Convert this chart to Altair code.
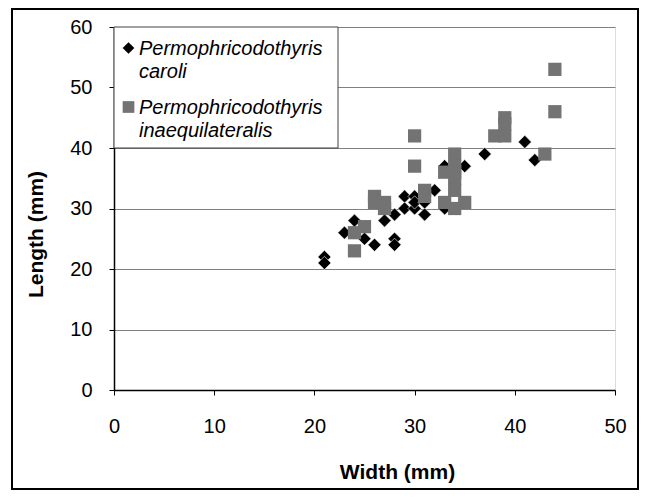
import altair as alt
import pandas as pd

# P. caroli (diamonds)
caroli_width = [21, 21, 23, 24, 25, 26, 27, 28, 28, 28, 29, 29, 30, 30, 30, 31, 31, 32, 33, 33, 34, 35, 37, 41, 42]
caroli_length = [22, 21, 26, 28, 25, 24, 28, 29, 25, 24, 32, 30, 32, 30, 31, 29, 31, 33, 37, 30, 37, 37, 39, 41, 38]

# P. inaequilateralis (squares)
inaeq_width = [24, 24, 25, 26, 26, 27, 27, 30, 30, 31, 31, 33, 33, 34, 34, 34, 34, 34, 34, 35, 38, 39, 39, 39, 43, 44, 44]
inaeq_length = [26, 23, 27, 32, 31, 31, 30, 42, 37, 33, 32, 36, 31, 39, 37, 36, 35, 33, 30, 31, 42, 42, 44, 45, 39, 46, 53]

legend_first = ["Permophricodothyris", "Permophricodothyris"]
legend_second = ["caroli", "inaequilateralis"]

x_ticks = [0, 10, 20, 30, 40, 50]
y_ticks = [0, 10, 20, 30, 40, 50, 60]

FONT = "Liberation Sans"
GREY_SQ = "#737373"

df_c = pd.DataFrame({"w": caroli_width, "l": caroli_length})
df_i = pd.DataFrame({"w": inaeq_width, "l": inaeq_length})
one = pd.DataFrame({"a": [0]})

xscale = alt.Scale(domain=[0, 50], nice=False, zero=True)
yscale = alt.Scale(domain=[0, 60], nice=False, zero=True)

xaxis = alt.Axis(values=x_ticks, grid=False, title="Width (mm)", labelFlush=False,
                 labelFont=FONT, labelFontSize=20, labelColor="black",
                 labelPadding=21, tickSize=5, tickColor="black", tickWidth=1,
                 domainColor="black", domainWidth=1.5,
                 titleFont=FONT, titleFontSize=21, titleFontWeight="bold", titleColor="black",
                 titleX=283, titleY=82, titleBaseline="middle", titleAlign="center")
yaxis = alt.Axis(values=y_ticks, grid=True, gridColor="#808080", gridWidth=1,
                 title="Length (mm)", labelFlush=False,
                 labelFont=FONT, labelFontSize=20, labelColor="black",
                 labelPadding=17, tickSize=5, tickColor="black", tickWidth=1,
                 domainColor="black", domainWidth=1.5,
                 titleFont=FONT, titleFontSize=21, titleFontWeight="bold", titleColor="black",
                 titleX=-78, titleY=207, titleAngle=270, titleBaseline="middle", titleAlign="center")

diamonds = alt.Chart(df_c).mark_point(shape="diamond", filled=True, size=175, color="black",
                                      opacity=1, stroke="white", strokeWidth=0.6).encode(
    x=alt.X("w:Q", scale=xscale, axis=xaxis),
    y=alt.Y("l:Q", scale=yscale, axis=yaxis),
)
squares = alt.Chart(df_i).mark_point(shape="square", filled=True, size=175, color=GREY_SQ,
                                     opacity=1).encode(
    x=alt.X("w:Q", scale=xscale),
    y=alt.Y("l:Q", scale=yscale),
)

frame = alt.Chart(one).mark_rect(fillOpacity=0, stroke="black", strokeWidth=2).encode(
    x=alt.value(-102), x2=alt.value(524), y=alt.value(-18), y2=alt.value(462))

legend_box = alt.Chart(one).mark_rect(fill="white", stroke="#404040", strokeWidth=1).encode(
    x=alt.value(0), x2=alt.value(224), y=alt.value(0), y2=alt.value(121))
leg_sym1 = alt.Chart(one).mark_point(shape="diamond", filled=True, size=137, color="black", opacity=1).encode(
    x=alt.value(14.5), y=alt.value(21))
leg_sym2 = alt.Chart(one).mark_point(shape="square", filled=True, size=137, color=GREY_SQ, opacity=1).encode(
    x=alt.value(14.5), y=alt.value(80))

def leg_text(txt, yv):
    return alt.Chart(pd.DataFrame({"t": [txt]})).mark_text(
        font=FONT, fontSize=20, fontStyle="italic", color="black",
        align="left", baseline="alphabetic").encode(
        text="t:N", x=alt.value(25), y=alt.value(yv))

legend_layers = [legend_box, leg_sym1, leg_sym2,
                 leg_text(legend_first[0], 28), leg_text(legend_second[0], 51),
                 leg_text(legend_first[1], 87), leg_text(legend_second[1], 110)]

chart = alt.layer(frame, diamonds, squares, *legend_layers).properties(
    width=501, height=363,
    padding={"left": 106, "top": 19, "right": 25, "bottom": 101},
    autosize=alt.AutoSizeParams(type="none"),
).configure_view(stroke="#808080", strokeWidth=1.5).configure(background="white")

chart.save("out.html", embed_options={"renderer": "svg", "actions": False})
